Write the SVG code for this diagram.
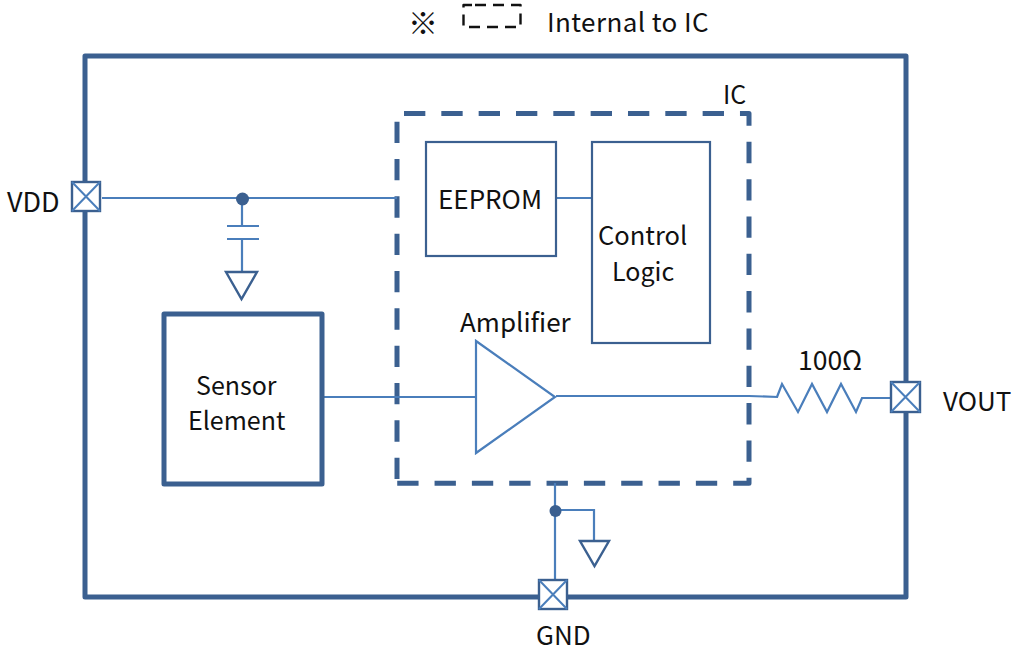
<svg xmlns="http://www.w3.org/2000/svg" width="1016" height="650" viewBox="0 0 1016 650">
<style>
text{font-family:"Noto Sans CJK JP","Liberation Sans",sans-serif;font-size:25px;fill:#111}
.l{font-size:26px}
.b{fill:none;stroke:#3b6090;stroke-width:5;stroke-linejoin:round}
.d{fill:none;stroke:#3b6090;stroke-width:5;stroke-dasharray:21.33 16;stroke-linejoin:round}
.m{fill:#fff;stroke:#3b6090;stroke-width:2.2}
.w{fill:none;stroke:#4a7ebb;stroke-width:2.2}
.g{fill:#fff;stroke:#3b6090;stroke-width:2.4}
.p{fill:#fff;stroke:#3b6090;stroke-width:2.4}
.x{stroke:#4a7ebb;stroke-width:2;fill:none}
</style>
<g id="frame"><rect class="b" x="85" y="56" width="821" height="541"/></g>
<g id="ic"><path class="d" d="M404 113.500H749V483.300H397"/><path class="d" d="M397 479V110"/><text x="723" y="104">IC</text></g>
<g id="connectors">
<path class="w" d="M102 198H397M242 198V226M227 226H259M227 239H259M242 239V272"/>
<path class="w" d="M322 397H476M556 396H749L778 397"/>
<path class="w" d="M556 198H592"/>
<path class="w" d="M777 397L782 384L798 412L812 384L827 412L841 384L856 412L862 398H890"/>
<path class="w" d="M555 483V581M555 510H594V541"/>
<circle cx="242.500" cy="199" r="6.500" fill="#3b6090"/>
<circle cx="555.500" cy="511" r="6" fill="#3b6090"/>
</g>
<g id="eeprom"><rect class="m" x="426" y="142" width="130" height="114"/><text class="l" x="438" y="209">EEPROM</text></g>
<g id="control-logic"><rect class="m" x="592" y="142" width="118" height="201"/><text x="598" y="245" style="font-size:25.500px">Control</text><text x="612" y="281">Logic</text></g>
<g id="sensor-element"><rect class="b" x="164" y="314" width="158" height="170"/><text x="196" y="395">Sensor</text><text x="188" y="430">Element</text></g>
<g id="amplifier"><path class="m" style="stroke:#4a7ebb" d="M476 341L555 397L476 453Z"/><text class="l" x="460" y="332">Amplifier</text></g>
<g id="ground-1"><path class="g" d="M226 272H257L241.500 299Z"/></g>
<g id="ground-2"><path class="g" d="M580 541H609L594.500 566Z"/></g>
<g id="vdd-pad"><rect class="p" x="72" y="182" width="28" height="29"/><path class="x" d="M72 182L100 211M100 182L72 211"/><text x="7" y="212" style="font-size:27px">VDD</text></g>
<g id="vout-pad"><rect class="p" x="891" y="382" width="29" height="30"/><path class="x" d="M891 382L920 412M920 382L891 412"/><text class="l" x="943" y="411">VOUT</text></g>
<g id="gnd-pad"><rect class="p" x="539" y="580" width="28" height="29"/><path class="x" d="M539 580L567 609M567 580L539 609"/><text class="l" x="536" y="645">GND</text></g>
<g id="resistor-label"><text class="l" x="798" y="370" style="font-size:26.500px">100Ω</text></g>
<g id="legend">
<text x="408" y="34" style="font-size:30px">※</text>
<path d="M475 5H520.500V27H463.500V5H475" fill="none" stroke="#111" stroke-width="2.400" stroke-dasharray="11 7" stroke-linejoin="round"/>
<text x="547" y="32" style="font-size:26px;letter-spacing:.4px">Internal to IC</text>
</g>
</svg>
